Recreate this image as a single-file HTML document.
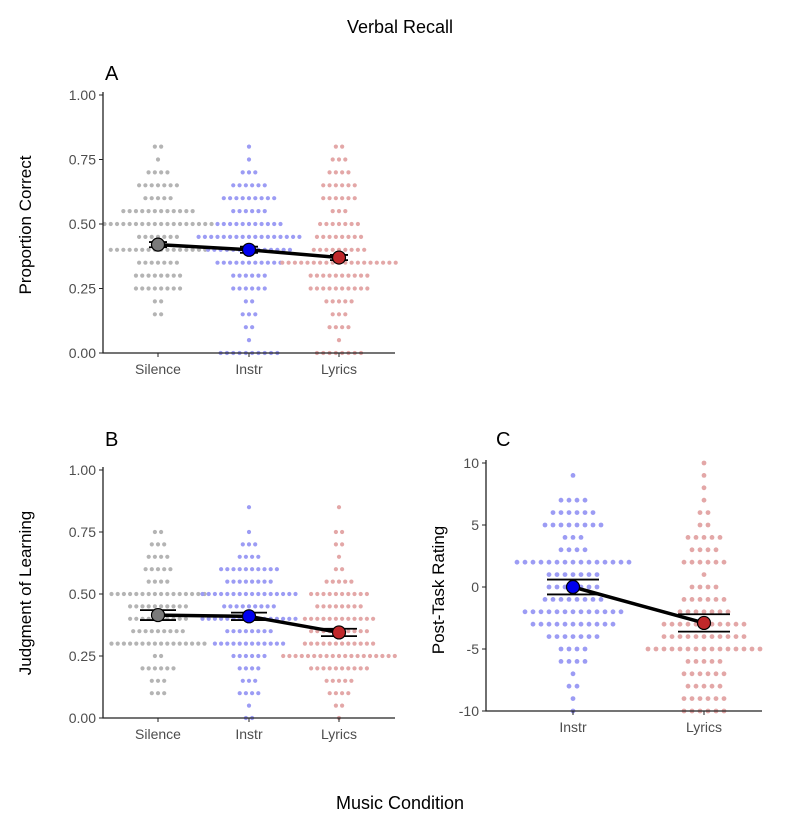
<!DOCTYPE html>
<html><head><meta charset="utf-8"><style>
body{margin:0;background:#fff;}
svg text{font-family:"Liberation Sans",Arial,sans-serif;}
</style></head><body>
<svg id="chart" width="800" height="827" xmlns="http://www.w3.org/2000/svg">
<text x="400" y="33" font-size="18" text-anchor="middle" fill="#000">Verbal Recall</text>
<text x="400" y="809" font-size="18" text-anchor="middle" fill="#000">Music Condition</text>
<text x="105" y="80" font-size="20">A</text>
<text x="105" y="446" font-size="20">B</text>
<text x="496" y="446" font-size="20">C</text>
<text transform="translate(31,225) rotate(-90)" font-size="17" text-anchor="middle">Proportion Correct</text>
<text transform="translate(31,593) rotate(-90)" font-size="17" text-anchor="middle">Judgment of Learning</text>
<text transform="translate(444,590) rotate(-90)" font-size="17" text-anchor="middle">Post-Task Rating</text>
</svg>
<script>
// Panel A data (values 0..0.80 step .05, counts per row)
const valsA = [0.80,0.75,0.70,0.65,0.60,0.55,0.50,0.45,0.40,0.35,0.30,0.25,0.20,0.15,0.10,0.05,0.00];
const silenceA = [2,1,4,7,5,12,18,7,16,7,8,8,2,2,0,0,0];
const instrA   = [1,1,3,6,9,6,11,17,14,11,6,6,2,3,2,1,10];
const lyricsA  = [2,3,4,6,6,3,7,8,9,19,10,10,5,3,4,1,8];
const meansA = [0.42,0.40,0.37];
const errA = [0.01,0.012,0.01];
// Panel B data
const valsB = [0.85,0.80,0.75,0.70,0.65,0.60,0.55,0.50,0.45,0.40,0.35,0.30,0.25,0.20,0.15,0.10,0.05,0.00];
const silenceB = [0,0,2,3,4,5,4,16,10,10,9,16,2,6,3,3,0,0];
const instrB   = [1,0,1,3,4,10,8,16,9,16,8,12,6,4,3,4,1,2];
const lyricsB  = [1,0,2,2,1,2,5,10,8,12,10,12,19,10,5,4,2,1];
const meansB = [0.415,0.41,0.345];
const errB = [0.02,0.015,0.015];
// Panel C data
const valsC = [10,9,8,7,6,5,4,3,2,1,0,-1,-2,-3,-4,-5,-6,-7,-8,-9,-10];
const instrC  = [0,1,0,4,6,8,3,4,15,7,7,8,13,11,7,4,4,1,2,1,1];
const lyricsC = [1,1,1,1,2,2,5,4,6,1,4,6,7,11,11,15,5,6,5,6,6];
const meansC = [0,-2.9];
const errC = [0.6,0.7];
const ticksAB = [0,0.25,0.5,0.75,1.0];
const tickLabAB = ["0.00","0.25","0.50","0.75","1.00"];
const ticksC = [-10,-5,0,5,10];
const catsAB = ["Silence","Instr","Lyrics"];
const catsC = ["Instr","Lyrics"];

const svg = document.getElementById('chart');
const NS = 'http://www.w3.org/2000/svg';
function mk(tag, attrs, parent){
  const e = document.createElementNS(NS, tag);
  for (const k in attrs) e.setAttribute(k, attrs[k]);
  (parent||svg).appendChild(e);
  return e;
}
const dotCol = {Silence:'#b4b4b4', Instr:'#9c9cf4', Lyrics:'#e3a7a7'};
const meanCol = {Silence:'#7a7a7a', Instr:'#0000ee', Lyrics:'#c0282a'};

function panel(opt){
  const y = v => opt.y0 + (v - opt.vmin)/(opt.vmax - opt.vmin)*(opt.y1 - opt.y0);
  const g = mk('g', {});
  
  
  // dots
  opt.groups.forEach((grp, gi) => {
    const cx = opt.xs[gi];
    grp.forEach((n, ri) => {
      for (let i=0;i<n;i++){
        const c = mk('circle', {cx: cx + (i-(n-1)/2)*opt.sp, cy: y(opt.vals[ri]), r: opt.r, fill: dotCol[opt.cats[gi]]}, g);
        
        
      }
    });
  });
  // axes
  const ax = mk('path', {d:`M${opt.xa},${y(opt.vmax)-3}V${opt.y0}H${opt.xr}`, stroke:'#222', 'stroke-width':1.3, fill:'none'}, g);
  
  
  opt.ticks.forEach((t, i) => {
    mk('line', {x1:opt.xa-4, x2:opt.xa, y1:y(t), y2:y(t), stroke:'#222'}, g);
    const tx = mk('text', {x:opt.xa-7, y:y(t)+5, 'font-size':14, 'text-anchor':'end', fill:'#4d4d4d'}, g);
    tx.textContent = opt.tickLab[i];
    
    
  });
  opt.xs.forEach((cx, i) => {
    mk('line', {x1:cx, x2:cx, y1:opt.y0, y2:opt.y0+4, stroke:'#222'}, g);
    const tx = mk('text', {x:cx, y:opt.y0+21, 'font-size':14, 'text-anchor':'middle', fill:'#4d4d4d'}, g);
    tx.textContent = opt.cats[i];
    
    
  });
  // mean line
  const pts = opt.means.map((m,i)=>`${opt.xs[i]},${y(m)}`).join(' ');
  const pl = mk('polyline', {points:pts, fill:'none', stroke:'#000', 'stroke-width':3.5}, g);
  
  
  opt.means.forEach((m,i) => {
    const cx = opt.xs[i];
    [m-opt.errs[i], m+opt.errs[i]].forEach(v => {
      const l = mk('line', {x1:cx-opt.ew, x2:cx+opt.ew, y1:y(v), y2:y(v), stroke:'#000', 'stroke-width':1.8}, g);
      
      
    });
    const c = mk('circle', {cx, cy:y(m), r:6.5, fill:meanCol[opt.cats[i]], stroke:'#000', 'stroke-width':1.2}, g);
    
    
  });
}
panel({name:'panel-a', y0:353, y1:95, vmin:0, vmax:1, xa:103, xr:395, xs:[158,249,339], cats:catsAB,
  vals:valsA, groups:[silenceA,instrA,lyricsA], means:meansA, errs:errA, sp:6.3, r:2.1, ew:9,
  ticks:ticksAB, tickLab:tickLabAB});
panel({name:'panel-b', y0:718, y1:470, vmin:0, vmax:1, xa:103, xr:395, xs:[158,249,339], cats:catsAB,
  vals:valsB, groups:[silenceB,instrB,lyricsB], means:meansB, errs:errB, sp:6.2, r:2.1, ew:18,
  ticks:ticksAB, tickLab:tickLabAB});
panel({name:'panel-c', y0:711, y1:463, vmin:-10, vmax:10, xa:486, xr:762, xs:[573,704], cats:catsC,
  vals:valsC, groups:[instrC,lyricsC], means:meansC, errs:errC, sp:8, r:2.4, ew:26,
  ticks:ticksC, tickLab:ticksC.map(String)});
</script>
</body></html>
